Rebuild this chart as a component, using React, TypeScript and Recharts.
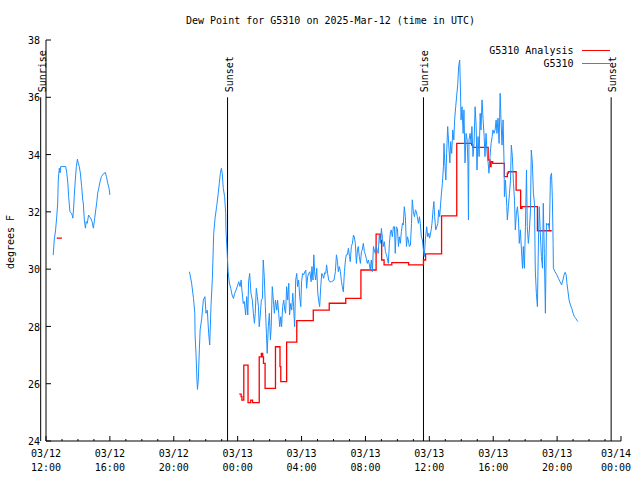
import React from 'react';
import { LineChart, Line, XAxis, YAxis, ReferenceLine, Legend } from 'recharts';

// time = minutes after 03/12 12:00 UTC, value = dew point (deg F)
const blueObsA: [number, number][] = [
  [27,30.49],[31,31.02],[36,31.37],[40,31.79],[44,32.31],[46,33.11],[50,33.52],[53,33.36],[55,33.58],[74,33.58],
  [78,33.36],[82,33.01],[85,32.53],[90,32.01],[97,31.93],[101,31.78],[105,32.31],[106,32.53],[110,33.11],[114,33.58],
  [118,33.84],[121,33.71],[125,33.58],[129,33.36],[134,32.88],[138,32.41],[140,32.31],[144,31.72],[148,31.43],[151,31.66],
  [155,31.60],[160,31.89],[164,31.83],[168,31.78],[173,31.66],[178,31.43],[183,31.78],[187,32.07],[191,32.36],[194,32.65],
  [198,32.82],[203,33.05],[208,33.23],[213,33.29],[218,33.35],[223,33.37],[227,33.23],[232,33.00],[237,32.82],[240,32.59],
];

const blueObsB: [number, number][] = [
  [539,29.91],[547,29.51],[554,28.98],[559,28.46],[560,27.70],[564,26.94],[567,26.13],[569,25.80],[572,26.13],[576,27.18],
  [579,27.88],[585,28.28],[591,28.92],[597,29.04],[601,28.46],[606,28.57],[611,27.76],[615,27.35],[620,28.75],[625,29.68],
  [630,31.25],[635,31.78],[641,32.18],[647,32.65],[651,33.00],[655,33.35],[659,33.52],[662,33.35],[666,32.82],[671,32.53],
  [675,31.95],[676,31.37],[680,30.67],[684,29.91],[689,29.51],[694,29.33],[699,29.10],[704,28.98],[709,29.16],[714,29.27],
  [719,29.41],[724,29.56],[729,29.39],[733,29.62],[736,29.27],[741,28.80],[745,28.87],[750,28.40],[754,29.04],[758,28.40],
  [761,29.56],[765,29.85],[770,29.16],[775,28.92],[779,28.46],[783,28.11],[786,28.46],[790,29.33],[794,29.04],[798,28.69],
  [801,27.99],[805,28.40],[809,28.92],[813,28.98],[816,30.32],[820,29.74],[824,28.69],[828,27.76],[831,27.06],[835,27.99],
  [839,28.46],[843,27.53],[846,27.99],[850,29.39],[854,28.92],[858,28.46],[862,28.92],[867,28.57],[870,28.92],[874,28.46],
  [878,27.99],[882,28.34],[885,27.99],[889,28.69],[893,28.92],[897,28.57],[900,28.46],[904,29.39],[908,28.92],[912,29.51],
  [915,28.40],[919,28.80],[923,28.57],[927,29.16],[930,28.69],[934,27.99],[938,29.62],[942,29.85],[945,29.39],[949,29.62],
  [953,29.04],[957,28.69],[960,29.56],[964,29.85],[968,29.80],[972,29.91],[976,29.97],[979,29.33],[983,29.74],[987,29.85],
  [991,29.91],[996,29.56],[999,30.09],[1003,29.62],[1006,30.50],[1009,29.91],[1013,29.62],[1017,30.03],[1021,29.16],[1024,28.92],
  [1028,28.69],[1032,29.39],[1036,29.85],[1039,29.80],[1043,29.68],[1047,29.88],[1051,29.85],[1054,30.15],[1058,29.85],[1062,29.62],
  [1066,29.56],[1073,29.56],[1082,29.62],[1087,29.91],[1091,30.50],[1095,30.26],[1098,29.91],[1102,30.09],[1106,29.91],[1110,29.56],
  [1113,29.39],[1117,29.21],[1121,29.91],[1125,30.32],[1128,30.50],[1132,30.50],[1136,30.73],[1140,30.44],[1143,30.26],[1147,30.79],
  [1151,30.90],[1155,31.19],[1158,31.13],[1162,30.90],[1166,30.20],[1170,30.67],[1173,30.79],[1177,30.44],[1181,30.20],[1185,30.61],
  [1188,30.67],[1192,30.90],[1196,30.61],[1200,30.50],[1203,30.38],[1207,30.20],[1211,30.32],[1215,30.15],[1218,29.97],[1222,30.32],
  [1226,29.91],[1230,30.79],[1233,30.67],[1237,30.55],[1241,30.79],[1245,30.61],[1248,30.55],[1252,31.19],[1256,30.90],[1260,31.42],
  [1264,31.08],[1267,30.79],[1271,30.96],[1275,30.61],[1279,30.50],[1282,30.38],[1286,30.20],[1290,30.90],[1294,31.31],[1297,31.37],
  [1301,31.13],[1305,31.48],[1309,31.48],[1312,30.55],[1316,31.48],[1320,31.42],[1324,30.79],[1327,31.13],[1331,30.90],[1335,31.31],
  [1339,31.60],[1342,31.54],[1346,32.18],[1350,31.83],[1354,30.79],[1358,31.13],[1361,31.02],[1365,30.79],[1369,30.84],[1373,31.60],
  [1376,32.42],[1380,32.01],[1384,31.83],[1388,32.07],[1391,32.01],[1395,31.83],[1399,31.60],[1403,31.83],[1406,31.60],[1410,31.13],
  [1414,31.02],[1418,30.67],[1421,30.44],[1425,31.02],[1430,31.48],[1434,31.13],[1438,31.25],[1441,31.08],[1447,31.37],[1450,31.60],
  [1454,32.07],[1457,32.36],[1460,31.83],[1464,31.37],[1468,31.48],[1472,31.60],[1475,32.07],[1479,31.83],[1482,32.24],[1485,32.59],
  [1489,33.00],[1493,33.58],[1495,34.39],[1498,33.71],[1502,33.11],[1505,34.04],[1509,34.98],[1513,34.33],[1517,33.71],[1520,34.45],
  [1524,34.04],[1528,34.86],[1532,34.51],[1535,35.21],[1539,35.67],[1543,36.08],[1547,36.49],[1550,37.07],[1554,37.30],[1557,36.26],
  [1559,35.21],[1563,35.67],[1567,34.74],[1570,35.56],[1574,33.71],[1578,34.74],[1582,34.51],[1585,33.71],[1587,31.72],[1589,34.51],
  [1593,34.74],[1597,34.39],[1600,34.98],[1604,33.93],[1608,34.39],[1612,35.67],[1616,34.98],[1619,33.46],[1623,34.63],[1627,33.93],
  [1631,35.44],[1634,34.86],[1638,35.91],[1642,35.21],[1646,34.63],[1649,33.93],[1653,34.74],[1657,34.04],[1661,33.71],[1664,33.35],
  [1668,33.93],[1672,34.39],[1676,34.63],[1679,34.86],[1683,34.74],[1687,34.86],[1691,35.21],[1694,34.74],[1698,35.27],[1702,34.39],
  [1706,36.14],[1709,35.27],[1713,34.33],[1717,35.21],[1721,33.58],[1722,32.53],[1726,33.11],[1731,32.18],[1733,31.72],[1737,32.18],
  [1741,32.65],[1745,33.11],[1748,34.33],[1752,33.93],[1756,33.00],[1760,32.41],[1763,31.37],[1767,31.95],[1771,32.18],[1775,31.72],
  [1778,30.90],[1782,31.37],[1786,30.67],[1790,30.03],[1793,30.79],[1797,30.03],[1801,31.48],[1805,33.46],[1808,31.48],[1812,30.90],
  [1816,31.37],[1820,32.07],[1823,34.16],[1827,33.71],[1831,32.65],[1835,32.30],[1838,29.97],[1842,29.16],[1846,28.69],[1850,31.02],
  [1853,32.18],[1857,31.25],[1861,30.44],[1865,30.03],[1868,32.30],[1872,30.55],[1876,28.46],[1880,31.60],[1884,31.54],[1887,31.60],
  [1891,31.37],[1895,33.23],[1899,33.35],[1902,32.53],[1905,30.90],[1906,30.03],[1912,29.91],[1919,29.80],[1925,29.68],[1931,29.56],
  [1937,29.45],[1942,29.62],[1946,29.80],[1950,29.89],[1954,29.80],[1957,29.50],[1961,29.21],[1965,28.92],[1970,28.75],[1975,28.63],
  [1980,28.46],[1985,28.34],[1990,28.28],[1994,28.22],[1998,28.17],
];

const analysisA: [number, number][] = [[40,31.08],[60,31.08]];

const analysisB: [number, number][] = [
  [726,25.64],[733,25.55],[736,25.43],[743,26.65],[759,25.34],[769,25.43],[776,25.34],[801,26.94],[809,27.06],[814,26.94],
  [817,26.71],[823,25.84],[862,27.29],[879,26.60],[882,26.07],[904,27.45],[942,28.20],[1004,28.57],[1064,28.81],[1126,28.98],
  [1183,29.97],[1240,31.22],[1257,31.00],[1261,30.32],[1270,30.15],[1299,30.23],[1362,30.15],[1418,30.32],[1426,30.53],[1486,31.86],
  [1543,34.39],[1599,34.33],[1603,34.25],[1661,33.81],[1668,33.58],[1672,33.75],[1678,33.69],[1722,33.23],[1733,33.35],[1737,33.40],
  [1766,32.76],[1783,32.12],[1788,32.18],[1846,31.34],[1900,31.34],
];

// sun events, minutes after 03/12 12:00 UTC
const sunEvents: { t: number; name: string }[] = [
  { t: -20, name: 'Sunrise' },
  { t: 682, name: 'Sunset' },
  { t: 1418, name: 'Sunrise' },
  { t: 2123, name: 'Sunset' },
];

const seriesNames: string[] = ['G5310 Analysis', 'G5310'];

const hourTicks: number[] = Array.from({ length: 37 }, (_, i) => i * 60);
const majorTickValues: number[] = [0, 240, 480, 720, 960, 1200, 1440, 1680, 1920, 2160];
const majorTickLabels: [string, string][] = [
  ['03/12', '12:00'], ['03/12', '16:00'], ['03/12', '20:00'], ['03/13', '00:00'], ['03/13', '04:00'],
  ['03/13', '08:00'], ['03/13', '12:00'], ['03/13', '16:00'], ['03/13', '20:00'], ['03/14', '00:00'],
];
const yTicks: number[] = [24, 26, 28, 30, 32, 34, 36, 38];

const TITLE = 'Dew Point for G5310 on 2025-Mar-12 (time in UTC)';
const FONT = '"DejaVu Sans Mono", monospace';
const BLUE = '#1e90ff';
const RED = '#ff0000';

const toRows = (a: [number, number][], b: [number, number][], gapT: number) => [
  ...a.map(([t, v]) => ({ t, v })),
  { t: gapT, v: null as number | null },
  ...b.map(([t, v]) => ({ t, v })),
];

const blueData = toRows(blueObsA, blueObsB, 400);
const redData = toRows(analysisA, analysisB, 400);

const BottomTick = (props: any) => {
  const { x, y, payload } = props;
  const idx = majorTickValues.indexOf(payload.value);
  const major = idx >= 0;
  const last = idx === majorTickValues.length - 1;
  const tx = last ? x + 10 : x;
  const anchor = last ? 'end' : 'middle';
  return (
    <g>
      <line x1={x} x2={x} y1={y} y2={y - (major ? 5 : 2)} stroke="#000" />
      {major && (
        <text x={tx} y={y + 16} textAnchor={anchor} fontFamily={FONT} fontSize={10} fill="#000">
          <tspan x={tx}>{majorTickLabels[idx][0]}</tspan>
          <tspan x={tx} y={y + 30}>{majorTickLabels[idx][1]}</tspan>
        </text>
      )}
    </g>
  );
};

const TopTick = (props: any) => {
  const { x, y, payload } = props;
  const major = majorTickValues.indexOf(payload.value) >= 0;
  return <line x1={x} x2={x} y1={y} y2={y + (major ? 5 : 2)} stroke="#000" />;
};

const LeftTick = (props: any) => {
  const { x, y, payload } = props;
  return (
    <g>
      <line x1={x} x2={x + 5} y1={y} y2={y} stroke="#000" />
      <text x={x - 6} y={y} dy="0.42em" textAnchor="end" fontFamily={FONT} fontSize={10} fill="#000">
        {payload.value}
      </text>
    </g>
  );
};

const RightTick = (props: any) => {
  const { x, y } = props;
  return <line x1={x} x2={x - 5} y1={y} y2={y} stroke="#000" />;
};

const sunLabel = (name: string) => (p: any) => {
  const vb = p && p.viewBox ? p.viewBox : p;
  const x = vb.x;
  const y = vb.y;
  return (
    <text
      x={0}
      y={0}
      transform={`translate(${x + 5}, ${y - 5}) rotate(-90)`}
      textAnchor="start"
      fontFamily={FONT}
      fontSize={10}
      fill="#000"
    >
      {name}
    </text>
  );
};

const yLabel = (p: any) => {
  const vb = p && p.viewBox ? p.viewBox : { x: 0, y: 40, width: 46, height: 401 };
  const cy = vb.y + vb.height / 2 + 1.5;
  return (
    <text
      x={0}
      y={0}
      transform={`translate(14, ${cy}) rotate(-90)`}
      textAnchor="middle"
      fontFamily={FONT}
      fontSize={10}
      fill="#000"
    >
      degrees F
    </text>
  );
};

const renderLegend = (props: any) => {
  const payload = [...(props.payload || [])].sort(
    (a: any, b: any) => seriesNames.indexOf(a.value) - seriesNames.indexOf(b.value)
  );
  return (
    <div style={{ fontFamily: FONT, fontSize: 10, lineHeight: '13px', color: '#000' }}>
      {payload.map((e: any, i: number) => (
        <div key={i} style={{ display: 'flex', justifyContent: 'flex-end', alignItems: 'center', height: 13 }}>
          <span style={{ whiteSpace: 'pre' }}>{e.value}</span>
          <svg width={36} height={13} style={{ display: 'block' }}>
            <line x1={8} x2={36} y1={6.5} y2={6.5} stroke={e.color} strokeWidth={1} />
          </svg>
        </div>
      ))}
    </div>
  );
};

export default function App() {
  return (
    <div style={{ position: 'absolute', left: 0, top: 0, width: 640, height: 480, background: '#fff' }}>
      <svg
        width={640}
        height={40}
        style={{ position: 'absolute', left: 0, top: 0, pointerEvents: 'none' }}
      >
        <text x={330.5} y={24} textAnchor="middle" fontFamily={FONT} fontSize={10} fill="#000">
          {TITLE}
        </text>
      </svg>
      <LineChart width={640} height={480} margin={{ top: 40, right: 19, bottom: 0, left: 0 }}>
        <XAxis
          xAxisId="b"
          type="number"
          dataKey="t"
          domain={[0, 2160]}
          ticks={hourTicks}
          interval={0}
          orientation="bottom"
          height={39}
          tickSize={0}
          tickMargin={0}
          tick={<BottomTick />}
          axisLine={{ stroke: '#000' }}
          allowDataOverflow
        />
        <XAxis
          xAxisId="t"
          type="number"
          dataKey="t"
          domain={[0, 2160]}
          ticks={hourTicks}
          interval={0}
          orientation="top"
          height={0}
          tickSize={0}
          tickMargin={0}
          tick={<TopTick />}
          axisLine={{ stroke: '#000' }}
          allowDataOverflow
        />
        <YAxis
          yAxisId="l"
          type="number"
          domain={[24, 38]}
          ticks={yTicks}
          interval={0}
          width={46}
          tickSize={0}
          tickMargin={0}
          tick={<LeftTick />}
          axisLine={{ stroke: '#000' }}
          label={yLabel}
          allowDataOverflow
        />
        <YAxis
          yAxisId="r"
          orientation="right"
          type="number"
          domain={[24, 38]}
          ticks={yTicks}
          interval={0}
          width={0}
          tickSize={0}
          tickMargin={0}
          tick={<RightTick />}
          axisLine={{ stroke: '#000' }}
          allowDataOverflow
        />
        <Legend
          layout="vertical"
          align="center"
          verticalAlign="middle"
          wrapperStyle={{ left: 409.5, top: 43.5, width: 200, height: 'auto' }}
          content={renderLegend}
        />
        {sunEvents.map((s, i) => (
          <ReferenceLine
            key={i}
            xAxisId="b"
            yAxisId="l"
            segment={[{ x: s.t, y: 24 }, { x: s.t, y: 36 }]}
            stroke="#000"
            strokeWidth={1}
            ifOverflow="visible"
            label={sunLabel(s.name)}
          />
        ))}
        <Line
          data={redData}
          xAxisId="b"
          yAxisId="l"
          dataKey="v"
          name="G5310 Analysis"
          type="stepAfter"
          stroke={RED}
          strokeWidth={1.3}
          dot={false}
          activeDot={false}
          isAnimationActive={false}
        />
        <Line
          data={blueData}
          xAxisId="b"
          yAxisId="l"
          dataKey="v"
          name="G5310"
          type="linear"
          stroke={BLUE}
          strokeWidth={1}
          dot={false}
          activeDot={false}
          isAnimationActive={false}
        />
      </LineChart>
    </div>
  );
}
